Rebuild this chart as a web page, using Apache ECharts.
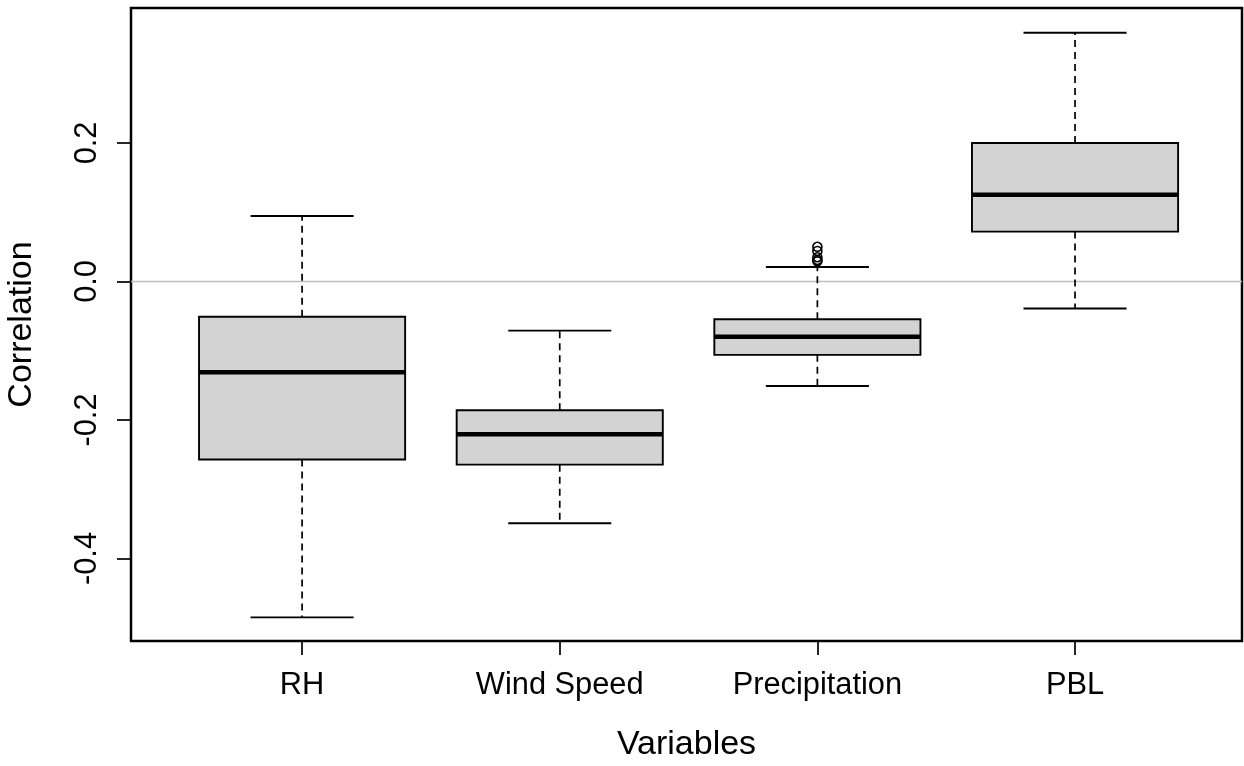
<!DOCTYPE html>
<html>
<head>
<meta charset="utf-8">
<script src="https://cdn.jsdelivr.net/npm/echarts@6/dist/echarts.min.js"></script>
<style>
  html, body { margin: 0; padding: 0; background: #fff; }
  #chart { width: 1244px; height: 766px; }
</style>
</head>
<body>
<div id="chart"></div>
<script>
// ---- data ----
const categories = ['RH', 'Wind Speed', 'Precipitation', 'PBL'];
const positions = [1, 2, 3, 4];
const whiskerLow = [-0.485, -0.349, -0.151, -0.039];
const q1 = [-0.257, -0.2645, -0.106, 0.072];
const medians = [-0.131, -0.2207, -0.080, 0.125];
const q3 = [-0.051, -0.186, -0.0546, 0.200];
const whiskerHigh = [0.0946, -0.071, 0.0209, 0.359];
const outlierPos = [3, 3, 3, 3, 3];
const outlierVal = [0.050, 0.044, 0.035, 0.031, 0.029];
const yTicks = [-0.4, -0.2, 0.0, 0.2];
const refLine = [0];

const FONT = "'Liberation Sans', Arial, sans-serif";

const boxData = positions.map((p, i) => [p, whiskerLow[i], q1[i], medians[i], q3[i], whiskerHigh[i]]);
const outlierData = outlierPos.map((p, i) => [p, outlierVal[i]]);
const refData = refLine.map(v => [2.5, v]);

const chart = echarts.init(document.getElementById('chart'), null, { renderer: 'canvas' });

function renderBox(params, api) {
  const x = api.value(0);
  const lo = api.value(1), a = api.value(2), m = api.value(3), b = api.value(4), hi = api.value(5);
  const boxHalf = 0.4, stapleHalf = 0.2;
  const pLo = api.coord([x, lo]);
  const pHi = api.coord([x, hi]);
  const pA = api.coord([x, a]);
  const pB = api.coord([x, b]);
  const tl = api.coord([x - boxHalf, b]);
  const br = api.coord([x + boxHalf, a]);
  const mL = api.coord([x - boxHalf, m]);
  const mR = api.coord([x + boxHalf, m]);
  const sLoL = api.coord([x - stapleHalf, lo]);
  const sLoR = api.coord([x + stapleHalf, lo]);
  const sHiL = api.coord([x - stapleHalf, hi]);
  const sHiR = api.coord([x + stapleHalf, hi]);
  const dash = { stroke: '#000', lineWidth: 1.7, lineDash: [7, 5] };
  const solid = { stroke: '#000', lineWidth: 1.9 };
  return {
    type: 'group',
    children: [
      { type: 'line', shape: { x1: pB[0], y1: pB[1], x2: pHi[0], y2: pHi[1] }, style: dash },
      { type: 'line', shape: { x1: pA[0], y1: pA[1], x2: pLo[0], y2: pLo[1] }, style: dash },
      { type: 'line', shape: { x1: sHiL[0], y1: sHiL[1], x2: sHiR[0], y2: sHiR[1] }, style: solid },
      { type: 'line', shape: { x1: sLoL[0], y1: sLoL[1], x2: sLoR[0], y2: sLoR[1] }, style: solid },
      { type: 'rect', shape: { x: tl[0], y: tl[1], width: br[0] - tl[0], height: br[1] - tl[1] },
        style: { fill: '#d3d3d3', stroke: '#000', lineWidth: 1.9 } },
      { type: 'line', shape: { x1: mL[0], y1: mL[1], x2: mR[0], y2: mR[1] },
        style: { stroke: '#000', lineWidth: 4.5 } }
    ]
  };
}

function renderRef(params, api) {
  const cs = params.coordSys;
  const y = api.coord([api.value(0), api.value(1)])[1];
  return {
    type: 'line',
    shape: { x1: cs.x, y1: y, x2: cs.x + cs.width, y2: y },
    style: { stroke: '#bebebe', lineWidth: 1.5 }
  };
}

const option = {
  backgroundColor: '#fff',
  animation: false,
  textStyle: { fontFamily: FONT },
  grid: {
    left: 131, right: 2, top: 8, bottom: 125,
    show: true, borderColor: '#000', borderWidth: 2.5, backgroundColor: 'transparent',
    containLabel: false, outerBoundsMode: 'none'
  },
  xAxis: {
    type: 'value',
    min: 0.336, max: 4.648,
    name: 'Variables',
    nameLocation: 'middle',
    nameGap: 87,
    nameTextStyle: { fontFamily: FONT, fontSize: 34, color: '#000' },
    axisLine: { show: false, onZero: false },
    splitLine: { show: false },
    axisTick: { show: true, customValues: positions, length: 14, lineStyle: { color: '#000', width: 1.7 } },
    axisLabel: {
      customValues: positions,
      formatter: v => categories[Math.round(v) - 1] || '',
      fontFamily: FONT, fontSize: 30.8, color: '#000', margin: 29
    }
  },
  yAxis: {
    type: 'value',
    min: -0.5191, max: 0.3948,
    name: 'Correlation',
    nameLocation: 'middle',
    nameRotate: 90,
    nameGap: 92,
    nameTextStyle: { fontFamily: FONT, fontSize: 34, color: '#000' },
    axisLine: { show: false, onZero: false },
    splitLine: { show: false },
    axisTick: { show: true, customValues: yTicks, length: 14, lineStyle: { color: '#000', width: 1.7 } },
    axisLabel: {
      customValues: yTicks,
      rotate: 90,
      formatter: v => v.toFixed(1),
      fontFamily: FONT, fontSize: 30.8, color: '#000', margin: 28
    }
  },
  series: [
    {
      type: 'custom',
      name: 'zero',
      data: refData,
      renderItem: renderRef,
      silent: true,
      z: 1
    },
    {
      type: 'custom',
      name: 'boxes',
      data: boxData,
      encode: { x: 0, y: [1, 2, 3, 4, 5] },
      renderItem: renderBox,
      z: 2
    },
    {
      type: 'scatter',
      name: 'outliers',
      data: outlierData,
      symbol: 'circle',
      symbolSize: 9,
      itemStyle: { color: 'rgba(0,0,0,0)', borderColor: '#000', borderWidth: 1.6, opacity: 1 },
      z: 3
    }
  ]
};

chart.setOption(option);
</script>
</body>
</html>
